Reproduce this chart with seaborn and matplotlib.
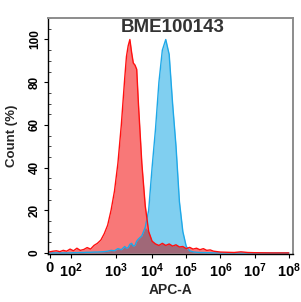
"""Flow cytometry overlay histogram: BME100143 on APC-A."""

import numpy as np
import pandas as pd

import matplotlib

matplotlib.use("Agg")
import matplotlib.pyplot as plt
from matplotlib.ticker import MultipleLocator
import seaborn as sns


TITLE = "BME100143"
X_LABEL = "APC-A"
Y_LABEL = "Count (%)"

# x in display decades (logicle-like axis), y in percent of max
RED_X = [1.0, 1.1, 1.2, 1.3, 1.4, 1.5, 1.6, 1.7, 1.8, 1.9, 2.0, 2.1, 2.2, 2.3,
         2.4, 2.5, 2.6, 2.7, 2.8, 2.9, 3.0, 3.1, 3.2, 3.25, 3.3, 3.35, 3.4,
         3.45, 3.5, 3.55, 3.6, 3.7, 3.8, 3.9, 4.0, 4.1, 4.2, 4.3, 4.4, 4.5,
         4.6, 4.7, 4.8, 4.9, 5.0, 5.1, 5.2, 5.3, 5.4, 5.5, 5.6, 5.7, 5.8,
         5.9, 6.0, 6.2, 6.4, 6.6, 6.8, 7.0, 7.5, 8.0]
RED_Y = [0.5, 0.8, 1.0, 0.6, 1.2, 0.8, 1.8, 1.0, 2.2, 1.2, 1.6, 2.5, 1.8, 3.5,
         4.5, 6.0, 9.0, 13.0, 20.0, 29.0, 42.0, 60.0, 82.0, 92.0, 97.0, 100.0,
         94.0, 89.0, 88.0, 86.0, 70.0, 42.0, 22.0, 10.0, 5.5, 4.2, 3.5, 4.5,
         3.5, 4.2, 3.2, 3.8, 2.8, 3.0, 2.0, 2.6, 1.8, 2.2, 1.5, 2.0, 1.2, 1.4,
         0.8, 0.6, 0.4, 0.3, 0.2, 0.5, 0.2, 0.1, 0.0, 0.0]

BLUE_X = [1.0, 1.1, 1.2, 1.3, 1.4, 1.5, 1.6, 1.7, 1.8, 1.9, 2.0, 2.1, 2.2, 2.3,
          2.4, 2.5, 2.6, 2.7, 2.8, 2.9, 3.0, 3.1, 3.2, 3.25, 3.3, 3.35, 3.4,
          3.45, 3.5, 3.55, 3.6, 3.7, 3.8, 3.9, 4.0, 4.1, 4.2, 4.3, 4.4, 4.5,
          4.6, 4.7, 4.8, 4.9, 5.0, 5.1, 5.2, 5.3, 5.4, 5.5, 5.6, 5.7, 5.8,
          5.9, 6.0, 6.2, 6.4, 6.6, 6.8, 7.0, 7.5, 8.0]
BLUE_Y = [0.0, 0.0, 0.0, 0.0, 0.0, 0.0, 0.0, 0.1, 0.1, 0.2, 0.2, 0.3, 0.3, 0.4,
          0.4, 0.5, 0.6, 0.8, 1.2, 1.0, 2.0, 1.5, 3.0, 2.2, 2.5, 4.0, 4.5,
          3.2, 3.5, 5.5, 6.5, 8.0, 12.0, 20.0, 40.0, 58.0, 80.0, 95.0, 100.0,
          93.0, 70.0, 50.0, 24.0, 10.0, 3.0, 1.0, 0.5, 0.3, 0.2, 0.15, 0.1,
          0.1, 0.0, 0.0, 0.0, 0.0, 0.0, 0.0, 0.0, 0.0, 0.0, 0.0]

XTICK_POS = [1.0, 1.62, 2.95, 4.0, 5.0, 6.0, 7.0, 8.0]
XTICK_LABELS = ["0", "$\\mathbf{10^2}$", "$\\mathbf{10^3}$", "$\\mathbf{10^4}$",
                "$\\mathbf{10^5}$", "$\\mathbf{10^6}$", "$\\mathbf{10^7}$",
                "$\\mathbf{10^8}$"]
YTICKS = [0, 20, 40, 60, 80, 100]


def main() -> None:
    sns.set_theme(style="ticks")
    plt.rcParams["font.family"] = ["Liberation Sans", "DejaVu Sans"]
    plt.rcParams["mathtext.fontset"] = "custom"
    plt.rcParams["mathtext.bf"] = "Liberation Sans:bold"
    plt.rcParams["mathtext.rm"] = "Liberation Sans"

    red = pd.DataFrame({"x": RED_X, "y": RED_Y})
    blue = pd.DataFrame({"x": BLUE_X, "y": BLUE_Y})

    fig = plt.figure(figsize=(3.01, 3.02), dpi=100)
    ax = fig.add_axes([0.159, 0.159, 0.814, 0.783])

    overlap = np.minimum(red["y"].to_numpy(), blue["y"].to_numpy())
    ax.fill_between(blue["x"], blue["y"], color="#80cff0", lw=0)
    ax.fill_between(red["x"], red["y"], color="#f87878", lw=0)
    ax.fill_between(red["x"], overlap, color="#a06878", lw=0)
    sns.lineplot(data=blue, x="x", y="y", color="#1ea8e8", lw=1.0, ax=ax)
    sns.lineplot(data=red, x="x", y="y", color="#ff1010", lw=1.0, ax=ax)

    ax.set_xlim(0.95, 8.12)
    ax.set_ylim(-0.5, 110.3)
    ax.set_xticks(XTICK_POS)
    ax.set_xticklabels(XTICK_LABELS, fontsize=10.5, fontweight="bold")
    ax.set_yticks(YTICKS)
    ax.set_yticklabels([str(v) for v in YTICKS], fontsize=8.5,
                       fontweight="bold", rotation=90, va="center")
    ax.yaxis.set_minor_locator(MultipleLocator(5))
    ax.tick_params(axis="both", which="major", length=3, width=0.8,
                   direction="out", pad=2, colors="black")
    ax.tick_params(axis="y", which="minor", length=2, width=0.6,
                   direction="in")

    ax.set_xlabel(X_LABEL, fontsize=10, fontweight="bold", va="center")
    ax.set_ylabel(Y_LABEL, fontsize=9.5, fontweight="bold", va="center")
    ax.xaxis.set_label_coords(0.5, -0.152)
    ax.yaxis.set_label_coords(-0.147, 0.5)

    for side in ("left", "bottom"):
        ax.spines[side].set_color("black")
        ax.spines[side].set_linewidth(1.0)
    for side in ("top", "right"):
        ax.spines[side].set_color("#8c8c8c")
        ax.spines[side].set_linewidth(1.4)

    fig.text(0.575, 0.91, TITLE, ha="center", va="center", fontsize=13.5,
             fontweight="bold", color="#333333")

    fig.savefig("out.png", dpi=100)
    plt.close(fig)


if __name__ == "__main__":
    main()
